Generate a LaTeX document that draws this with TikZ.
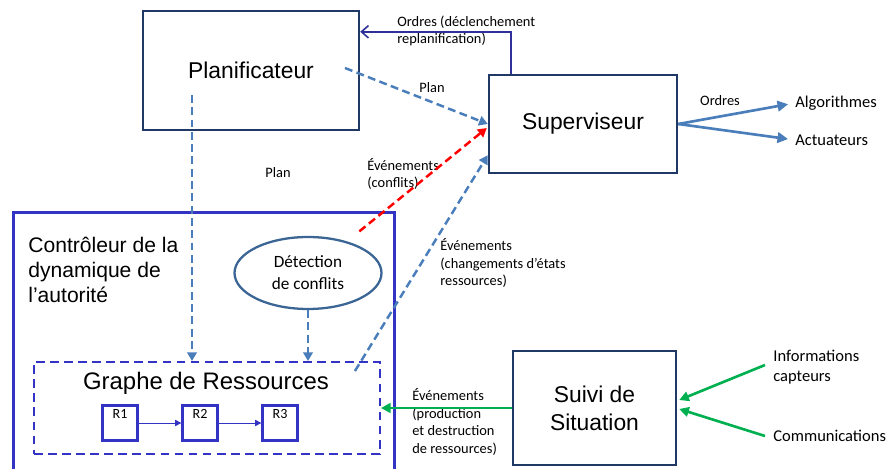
\documentclass[tikz,border=0pt]{standalone}
\usepackage{fontspec}
\setmainfont{Liberation Sans}
\newfontfamily\calib{Carlito}
\usepackage{tikz}
\usetikzlibrary{positioning}
\usetikzlibrary{calc}
\usetikzlibrary{shapes.geometric}
\usetikzlibrary{arrows.meta}
\definecolor{navy}{HTML}{1F3864}
\definecolor{steel}{HTML}{4A7EBB}
\definecolor{ellblue}{HTML}{3B6594}
\definecolor{ctrlblue}{HTML}{3434C4}
\definecolor{ordnavy}{HTML}{30309A}
\definecolor{evgreen}{HTML}{00B050}

\begin{document}
\begin{tikzpicture}[x=0.02cm,y=-0.02cm,
							bigbox/.style={draw=navy, line width=1.4pt, inner sep=0pt, align=center, font=\fontsize{13}{15.9}\selectfont},
							ctrlbox/.style={draw=ctrlblue, line width=1.7pt, inner sep=0pt},
							graphbox/.style={draw=ctrlblue, line width=1.1pt, dash pattern=on 5pt off 3pt, inner sep=0pt},
							ellnode/.style={ellipse, draw=ellblue, line width=1.3pt, minimum width=2.94cm, minimum height=1.44cm, inner sep=0pt, align=center, font=\calib\fontsize{9.8}{12.5}\selectfont},
							rbox/.style={draw=ctrlblue, line width=1.3pt, minimum size=0.7cm, inner sep=0pt},
							petit/.style={font=\calib\fontsize{8.2}{10}\selectfont, align=left, inner sep=0pt},
							moyen/.style={font=\calib\fontsize{9.4}{11.3}\selectfont, align=left, inner sep=0pt},
							planarrow/.style={draw=steel, line width=1.4pt, dash pattern=on 4.5pt off 2.5pt, -{Triangle[length=5pt,width=5.5pt]}},
							conflitarrow/.style={draw=red, line width=1.4pt, dash pattern=on 4.5pt off 2.5pt, -{Triangle[length=5pt,width=5.5pt]}},
							ordrearrow/.style={draw=steel, line width=1.5pt, -{Triangle[length=6pt,width=6pt]}, shorten >=4pt},
							uparrow/.style={draw=ordnavy, line width=0.9pt, -{Straight Barb[length=4pt,width=7pt]}},
							evarrow/.style={draw=evgreen, line width=1.5pt, -{Triangle[length=5.5pt,width=5.5pt]}},
							rarrow/.style={draw=ctrlblue, line width=0.5pt, -{Triangle[length=3.5pt,width=3.5pt]}},
							]
							\useasboundingbox (0,0) rectangle (886,469);
							%Nodes
							\node[bigbox, minimum width=4.32cm, minimum height=2.38cm]      (planif) 	at 	(251,70.5)      {Planificateur};
							\node[bigbox, minimum width=3.76cm, minimum height=1.96cm]      (superv) 	at 	(583,124)       {Superviseur};
							\node[bigbox, minimum width=3.26cm, minimum height=2.28cm]      (suivi) 	at 	(594.5,408)     {Suivi de\\Situation};
							\node[ctrlbox, minimum width=7.62cm, minimum height=5.35cm]     (ctrl) 	at 	(204,346)       {};
							\node[anchor=west, inner sep=0pt, align=left, font=\fontsize{12}{14.2}\selectfont] (ctrltitle) at (28,270) {Contrôleur de la\\dynamique de\\l’autorité};
							\node[ellnode]       (detect) 	at 	(308,273)       {Détection\\de conflits};
							\node[graphbox, minimum width=6.92cm, minimum height=1.84cm]    (graphe) 	at 	(207,408)       {};
							\node[inner sep=0pt, font=\fontsize{13.6}{16}\selectfont] (graphetitle) at (206,383) {Graphe de Ressources};
							\node[rbox, label={[anchor=north, inner sep=2.5pt, font=\calib\fontsize{8}{9}\selectfont]north:R1}]      (r1) 	at 	(120,423)       {};
							\node[rbox, label={[anchor=north, inner sep=2.5pt, font=\calib\fontsize{8}{9}\selectfont]north:R2}]      (r2) 	at 	(200,423)       {};
							\node[rbox, label={[anchor=north, inner sep=2.5pt, font=\calib\fontsize{8}{9}\selectfont]north:R3}]      (r3) 	at 	(280,423)       {};
							\node[moyen, anchor=west]      (algo) 	at 	(795,103)       {Algorithmes};
							\node[moyen, anchor=west]      (actu) 	at 	(795,140)       {Actuateurs};
							\node[moyen, anchor=west]      (info) 	at 	(773,367)       {Informations\\capteurs};
							\node[moyen, anchor=west]      (comm) 	at 	(773,436)       {Communications};
							%Labels
							\node[petit, anchor=west]      (lblreplan) 	at 	(397,31)        {Ordres (déclenchement\\replanification)};
							\node[petit]                   (lblplan) 	at 	(432,88)        {Plan};
							\node[petit]                   (lblplanb) 	at 	(278,173)       {Plan};
							\node[petit]                   (lblordres) 	at 	(720,101)       {Ordres};
							\node[petit, anchor=west]      (lblconflit) 	at 	(367,174)       {Événements\\(conflits)};
							\node[petit, anchor=west]      (lblchang) 	at 	(440,263)       {Événements\\(changements d’états\\ressources)};
							\node[petit, anchor=west]      (lblprod) 	at 	(412,422)       {Événements\\(production\\et destruction\\de ressources)};
							%Coordinates
							\coordinate (planout) at (192,95);
							\coordinate (planstart) at (345,68);
							
							%Connectors
							\draw[planarrow] (planout) -- (planout |- graphe.north);
							\draw[planarrow] (planstart) -- (superv.west);
							\draw[planarrow] (detect.south) -- (detect.south |- graphe.north);
							\draw[planarrow] ($(graphe.north east)+(-26,10)$) -- ($(superv.south west)+(0,-19)$);
							\draw[conflitarrow, shorten <=9pt] (detect) -- ($(superv.west)+(-1,4)$);
							\draw[uparrow] ($(superv.north west)+(23,0)$) |- ($(planif.north east)+(0,22)$);
							\draw[ordrearrow] (superv.east) -- (algo.west);
							\draw[ordrearrow] (superv.east) -- (actu.west);
							\draw[evarrow] (suivi.west) -- (graphe.east);
							\draw[evarrow] ($(info.west)+(-8,-2)$) -- ($(suivi.east)+(2,-8)$);
							\draw[evarrow] ($(comm.west)+(-8,0)$) -- ($(suivi.east)+(2,1)$);
							\draw[rarrow] (r1) -- (r2);
							\draw[rarrow] (r2) -- (r3);
						\end{tikzpicture}
\end{document}
